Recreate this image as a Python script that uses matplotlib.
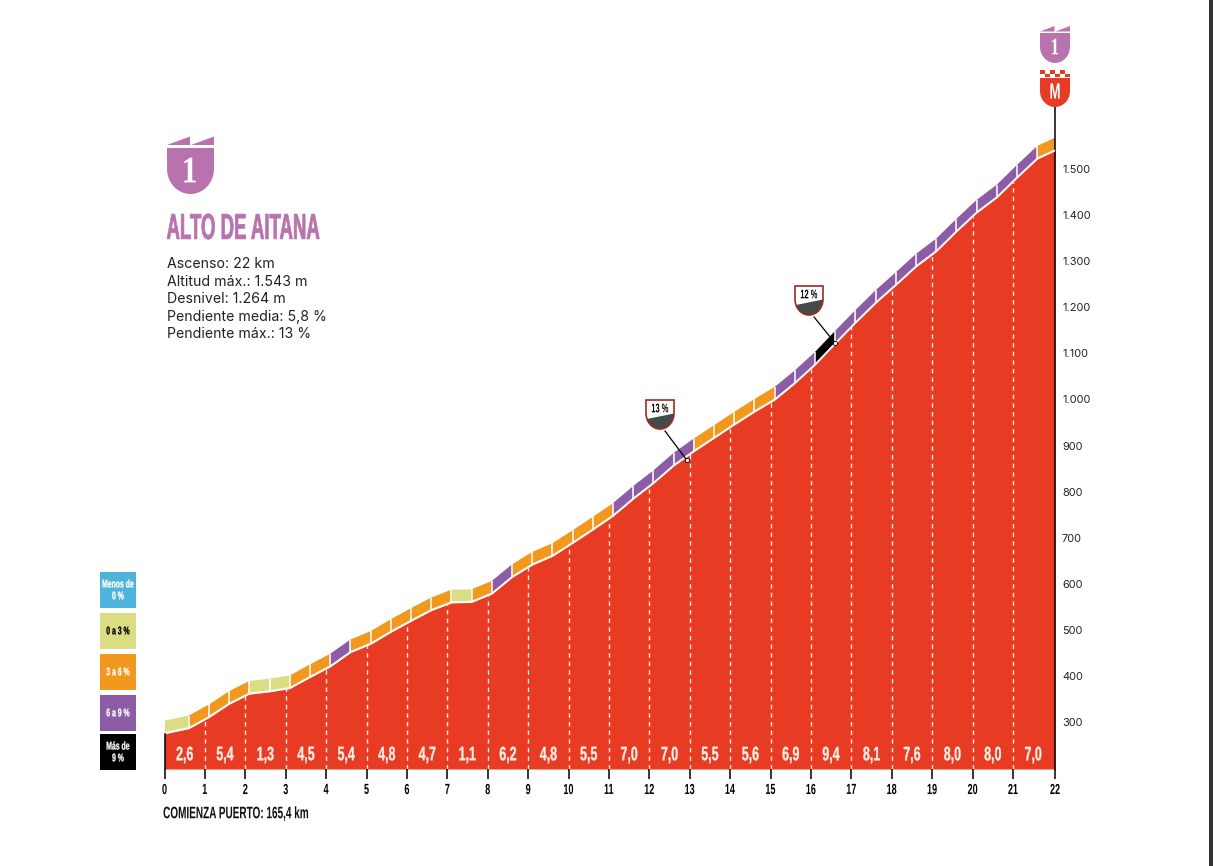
import numpy as np
import matplotlib
matplotlib.use("Agg")
import matplotlib.pyplot as plt
from matplotlib.patches import Polygon, Rectangle
from matplotlib.text import Text
from matplotlib.textpath import TextPath
from matplotlib.transforms import Affine2D, Bbox
from matplotlib.colors import to_rgb

W, H = 1213, 866
NARROW = 'Liberation Sans'
BODY = 'Inter'

# ---------- data ----------
km_points = [0, 0.6, 1.1, 1.6, 2.1, 2.6, 3.1, 3.6, 4.1, 4.6, 5.1, 5.6, 6.1, 6.6, 7.1, 7.6, 8.1, 8.6,
             9.1, 9.6, 10.1, 10.6, 11.1, 11.6, 12.1, 12.6, 13.1, 13.6, 14.1, 14.6, 15.1, 15.6, 16.1,
             16.6, 17.1, 17.6, 18.1, 18.6, 19.1, 19.6, 20.1, 20.6, 21.1, 21.6, 22.04]
elevation = [275, 286, 310, 339, 361, 366, 373, 397, 420, 451, 469, 495, 519, 542, 559, 560, 578, 614,
             641, 660, 688, 717, 747, 784, 818, 856, 887, 916, 945, 973, 999, 1035, 1075,
             1121, 1166, 1209, 1248, 1288, 1321, 1364, 1405, 1438, 1481, 1522, 1540]
segment_class = list("GOOOGGOOPOOOOOGOPOOOOOPPPPOOOOPPBPPPPPPPPPPO")
km_gradient = ['2,6', '5,4', '1,3', '4,5', '5,4', '4,8', '4,7', '1,1', '6,2', '4,8', '5,5',
               '7,0', '7,0', '5,5', '5,6', '6,9', '9,4', '8,1', '7,6', '8,0', '8,0', '7,0']
yticks = [300, 400, 500, 600, 700, 800, 900, 1000, 1100, 1200, 1300, 1400, 1500]
ytick_labels = ['300', '400', '500', '600', '700', '800', '900', '1.000', '1.100', '1.200', '1.300', '1.400', '1.500']
xticks = list(range(22)) + [22.04]
xtick_labels = [str(v) for v in range(23)]
info_lines = ['Ascenso: 22 km', 'Altitud máx.: 1.543 m', 'Desnivel: 1.264 m',
              'Pendiente media: 5,8 %', 'Pendiente máx.: 13 %']
legend_labels = ['Menos de\n0 %', '0 a 3 %', '3 a 6 %', '6 a 9 %', 'Más de\n9 %']
steep_km = [12.93, 16.6]
steep_elev = [868, 1122]
steep_labels = ['13 %', '12 %']

# ---------- colours ----------
RED = '#E83B24'
PURPLE_BADGE = '#B873AE'
seg_col = {'G': '#DBDD85', 'O': '#F3981E', 'P': '#8C5CA6', 'B': '#000000'}
legend_cols = ['#4FB4DC', '#DBDD85', '#F3981E', '#8C5CA6', '#000000']
legend_text = ['white', 'black', 'white', 'white', 'white']


class CondensedText(Text):
    """A text artist drawn with its glyphs squeezed horizontally (no condensed font is installed)."""
    sx = 0.6
    stroke = 0.0

    def _geom(self, dpi):
        fp = self.get_fontproperties()
        tp = TextPath((0, 0), self.get_text(), size=fp.get_size_in_points() * dpi / 72, prop=fp)
        bb = tp.get_extents()
        x, y = self.get_transform().transform(self.get_unitless_position())
        ha, va = self.get_ha(), self.get_va()
        ax_ = {'left': bb.x0, 'center': (bb.x0 + bb.x1) / 2, 'right': bb.x1}[ha] * self.sx
        ay_ = {'center': (bb.y0 + bb.y1) / 2, 'top': bb.y1, 'bottom': bb.y0}.get(va, 0)
        return tp, Affine2D().scale(self.sx, 1).translate(x - ax_, y - ay_)

    def draw(self, renderer):
        if not self.get_visible() or not self.get_text():
            return
        tp, tr = self._geom(renderer.points_to_pixels(72))
        gc = renderer.new_gc()
        col = to_rgb(self.get_color())
        gc.set_foreground(col)
        gc.set_linewidth(self.stroke)
        renderer.draw_path(gc, tp, tr, col)
        gc.restore()
        self.stale = False

    def get_window_extent(self, renderer=None, dpi=None):
        if not self.get_text():
            return Bbox.null()
        tp, tr = self._geom(dpi or self.get_figure().dpi)
        return tp.get_extents(tr)


def ctext(a, x, y, s, sx=0.6, stroke=0.0, line_px=None, **kw):
    lines = s.split('\n')
    lh = line_px or 0
    for i, ln in enumerate(lines):
        t = CondensedText(x, y + (i - (len(lines) - 1) / 2) * lh, ln, **kw)
        t.sx, t.stroke = sx, stroke
        a.add_artist(t)


fig = plt.figure(figsize=(W / 100, H / 100), dpi=100, facecolor='white')

# ---------- main axes ----------
PX_L, PX_R, PX_B, PX_T = 164.5, 1055.0, 769.0, 107.0
px_per_m = (722 - 169) / 1200
y_of = lambda py: 300 + (722 - py) / px_per_m
ax = fig.add_axes([PX_L / W, (H - PX_B) / H, (PX_R - PX_L) / W, (PX_B - PX_T) / H])
ax.set_xlim(0, 22.04)
ax.set_ylim(y_of(PX_B), y_of(PX_T))
ax.patch.set_alpha(0)
for s in ['top', 'left', 'bottom']:
    ax.spines[s].set_visible(False)
ax.spines['right'].set_linewidth(1.1)
ax.spines['right'].set_color('black')

ax.fill_between(km_points, elevation, y_of(PX_B), color=RED, lw=0, zorder=1)

# gradient band above profile
gap, band = 3, 28
for i, c in enumerate(segment_class):
    x0, x1 = km_points[i], km_points[i + 1]
    e0, e1 = elevation[i], elevation[i + 1]
    ax.add_patch(Polygon([(x0, e0 + gap), (x1, e1 + gap), (x1, e1 + band), (x0, e0 + band)],
                         closed=True, fc=seg_col[c], ec='none', zorder=2))
    if i > 0:
        ax.plot([x0, x0], [e0, e0 + band], color='white', lw=1.1, zorder=3, solid_capstyle='butt')
ax.plot(km_points, elevation, color='#FFF8EE', lw=1.2, zorder=3)

# km dashed lines
for k in range(1, 22):
    ax.plot([k, k], [y_of(PX_B), np.interp(k, km_points, elevation)], color='#FBE9DC', lw=1.0,
            dashes=(3.2, 3.0), zorder=2.5)
ax.plot([0, 0], [y_of(PX_B), elevation[0]], color='black', lw=1.1, zorder=4, clip_on=False)

# gradient per km
for k, lab in enumerate(km_gradient):
    ctext(ax, k + 0.5, y_of(755), lab, sx=0.64, stroke=0.25, color='#FCEFE6', fontsize=14, family=NARROW,
          weight='bold', ha='center', va='center', zorder=5)

ax.yaxis.tick_right()
ax.set_yticks(yticks)
ax.set_yticklabels(ytick_labels, fontsize=7.9, family=BODY, color='#222222')
ax.tick_params(axis='y', length=0, pad=5)
ax.set_xticks(xticks)
ax.set_xticklabels(xtick_labels, fontsize=10.5, family=NARROW, weight='bold')
ax.tick_params(axis='x', length=7.2, width=1.1, pad=3.5)
for tick in ax.xaxis.get_major_ticks():
    tick.label1.__class__ = CondensedText
    tick.label1.sx = 0.62

# ---------- overlay in pixel coordinates ----------
ov = fig.add_axes([0, 0, 1, 1], zorder=10)
ov.set_xlim(0, W)
ov.set_ylim(H, 0)
ov.axis('off')
ov.patch.set_alpha(0)

# dark strip on the right edge of the scan
ov.add_patch(Rectangle((1209, 0), 4, H, fc='#333333', ec='none'))


def shield_pts(x0, x1, y0, y1, straight=0.45):
    cx, rx = (x0 + x1) / 2, (x1 - x0) / 2
    ys = y0 + (y1 - y0) * straight
    ry = y1 - ys
    t = np.linspace(0, np.pi, 40)
    arc = np.c_[cx + rx * np.cos(t), ys + ry * np.sin(t)]
    return np.vstack([[x1, y0], arc, [x0, y0]])


def flags(x0, x1, ytop, ybase, color):
    mid = (x0 + x1) / 2
    ov.add_patch(Polygon([(x0, ybase), (mid - 0.5, ytop), (mid - 0.5, ybase)], fc=color, ec='none'))
    ov.add_patch(Polygon([(mid + 0.5, ybase), (x1, ytop), (x1, ybase)], fc=color, ec='none'))


# big category badge
flags(167, 214, 136.5, 145, PURPLE_BADGE)
ov.add_patch(Polygon(shield_pts(167, 214, 148, 194), fc=PURPLE_BADGE, ec='none'))
ctext(ov, 190, 170, '1', sx=0.85, color='white', fontsize=27, family='Liberation Serif', weight='bold',
      ha='center', va='center')

# title and info
ctext(ov, 167, 226.5, 'ALTO DE AITANA', sx=0.515, stroke=0.5, color=PURPLE_BADGE, fontsize=26, family=NARROW,
      weight='bold', ha='left', va='center')
for py, line in zip([264.5, 281.5, 299, 316.5, 333.5], info_lines):
    ov.text(167, py, line, color='#222222', fontsize=10.2, family=BODY, ha='left', va='center')

# top right badges
flags(1040, 1070, 26, 31.5, PURPLE_BADGE)
ov.add_patch(Polygon(shield_pts(1040, 1070, 33, 63), fc=PURPLE_BADGE, ec='none'))
ctext(ov, 1055, 46.5, '1', sx=0.75, color='white', fontsize=17, family='Liberation Serif', weight='bold',
      ha='center', va='center')
for r, ry in enumerate([70, 73.5]):
    for c in range(6):
        if (r + c) % 2 == 0:
            ov.add_patch(Rectangle((1040 + c * 5, ry), 5, 3.5, fc=RED, ec='none'))
ov.add_patch(Rectangle((1040, 76.5), 30, 0.8, fc=RED, ec='none'))
ov.add_patch(Polygon(shield_pts(1040, 1070, 78, 107), fc=RED, ec='none'))
ctext(ov, 1055, 91, 'M', sx=0.6, color='white', fontsize=16, family=NARROW, weight='bold', ha='center', va='center')

# steep badges with leaders
to_px = lambda k, e: (PX_L + k * (PX_R - PX_L) / 22.04, 722 - (e - 300) * px_per_m)
for (bx, by), k, e, lab in zip([(646, 400), (795, 286)], steep_km, steep_elev, steep_labels):
    w = 28
    pts = shield_pts(bx, bx + w, by, by + w + 1)
    ov.add_patch(Polygon(pts, fc='white', ec='none'))
    ys = by + (w + 1) * 0.45
    t = np.linspace(0, np.pi, 40)
    arc = np.c_[bx + w / 2 + w / 2 * np.cos(t), ys + (w + 1 - (w + 1) * 0.45) * np.sin(t)]
    keep = arc[arc[:, 1] >= by + 14]
    ov.add_patch(Polygon(np.vstack([[bx + w, by + 13.5], keep[1:], [bx + 1, by + 19]]), fc='#444B48', ec='none'))
    ov.add_patch(Polygon(pts, fc='none', ec='#9E2A22', lw=1.2))
    ctext(ov, bx + w / 2, by + 8, lab, sx=0.6, color='black', fontsize=9, family=NARROW, weight='bold',
          ha='center', va='center')
    ex, ey = to_px(k, e)
    ov.plot([bx + w / 2 + 5, ex], [by + w + 3, ey], color='black', lw=0.9)
    ov.plot([ex], [ey], 'o', ms=3, mfc='white', mec='black', mew=0.6)

# legend
for (y0, y1), col, tc, lab in zip([(572, 608), (613, 649), (654, 690), (695, 731), (734, 770)],
                                  legend_cols, legend_text, legend_labels):
    ov.add_patch(Rectangle((100, y0), 36, y1 - y0, fc=col, ec='none'))
    ctext(ov, 118, (y0 + y1) / 2 - 0.5, lab, sx=0.62, stroke=0.2, line_px=12, color=tc, fontsize=8, family=NARROW,
          weight='bold', ha='center', va='center')

ctext(ov, 163.5, 813.5, 'COMIENZA PUERTO: 165,4 km', sx=0.6, color='#111111', fontsize=12, family=NARROW, weight='bold',
      ha='left', va='center')

fig.savefig('out.png', dpi=100, facecolor='white')
